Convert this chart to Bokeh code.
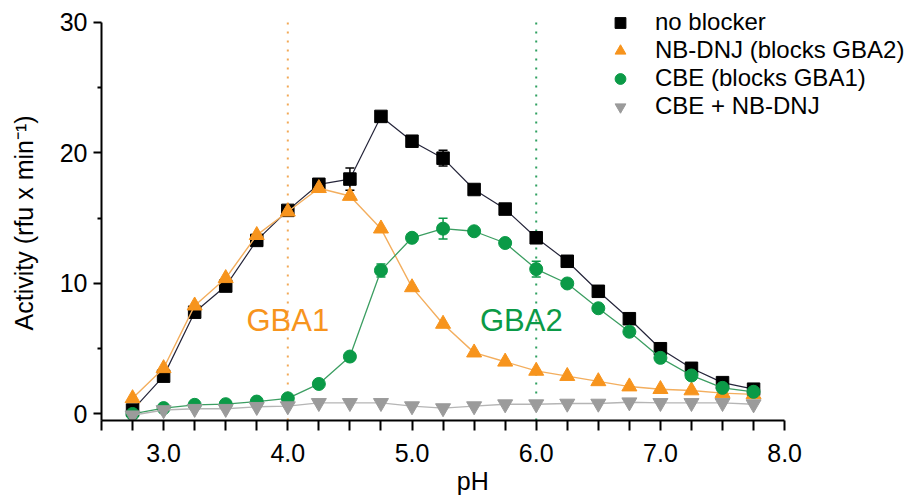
from bokeh.plotting import figure
from bokeh.models import (Range1d, FixedTicker, Legend, LegendItem, Label,
                          ColumnDataSource, Whisker, TeeHead)
from bokeh.embed import file_html
from bokeh.resources import INLINE

# ---------------- data ----------------
ph = [2.75, 3.0, 3.25, 3.5, 3.75, 4.0, 4.25, 4.5, 4.75, 5.0, 5.25,
      5.5, 5.75, 6.0, 6.25, 6.5, 6.75, 7.0, 7.25, 7.5, 7.75]
no_blocker = [0.3, 2.9, 7.8, 9.8, 13.3, 15.6, 17.6, 18.0, 22.8, 20.9, 19.6,
              17.2, 15.7, 13.5, 11.7, 9.4, 7.3, 5.0, 3.5, 2.4, 1.9]
no_blocker_err = [0.2, 0.2, 0.2, 0.2, 0.2, 0.3, 0.4, 0.85, 0.2, 0.2, 0.6,
                  0.2, 0.2, 0.3, 0.2, 0.2, 0.2, 0.2, 0.2, 0.2, 0.2]
nbdnj = [1.2, 3.5, 8.3, 10.4, 13.7, 15.5, 17.3, 16.7, 14.2, 9.7, 6.9,
         4.7, 4.0, 3.3, 2.9, 2.5, 2.1, 1.9, 1.8, 1.6, 1.5]
cbe = [0.0, 0.45, 0.7, 0.75, 0.95, 1.2, 2.3, 4.4, 11.0, 13.5, 14.2,
       14.0, 13.1, 11.1, 10.0, 8.1, 6.3, 4.3, 2.95, 2.0, 1.7]
cbe_err = [0.1, 0.1, 0.1, 0.1, 0.1, 0.1, 0.1, 0.2, 0.5, 0.2, 0.8,
           0.2, 0.2, 0.6, 0.2, 0.2, 0.2, 0.2, 0.2, 0.2, 0.2]
cbe_nbdnj = [-0.1, 0.3, 0.4, 0.4, 0.55, 0.6, 0.85, 0.85, 0.85, 0.6, 0.45,
             0.6, 0.75, 0.75, 0.8, 0.8, 0.9, 0.85, 0.85, 0.85, 0.75]

series_names = ["no blocker", "NB-DNJ (blocks GBA2)", "CBE (blocks GBA1)", "CBE + NB-DNJ"]
x_major = [3.0, 4.0, 5.0, 6.0, 7.0, 8.0]
x_minor = [2.5, 2.75, 3.25, 3.5, 3.75, 4.25, 4.5, 4.75, 5.25, 5.5, 5.75,
           6.25, 6.5, 6.75, 7.25, 7.5, 7.75]
y_major = [0, 10, 20, 30]
y_minor = [5, 15, 25]
gba1_ph = 4.0
gba2_ph = 6.0
gba1_label = ("GBA1", 4.0, 7.2)
gba2_label = ("GBA2", 5.88, 7.2)

FONT = "Liberation Sans"
ORANGE = "#F7941D"
GREEN = "#0B9A47"
GRAY = "#9B9B9B"
NB = "\u00a0"

Y0, Y1 = -0.5, 30
p = figure(width=920, height=497, output_backend="svg", toolbar_location=None,
           x_range=Range1d(2.5, 9.094), y_range=Range1d(Y0, 31.376),
           min_border_left=101, min_border_right=0, min_border_top=4,
           min_border_bottom=76)
p.outline_line_color = None
p.grid.visible = False
p.background_fill_color = "white"
p.border_fill_color = "white"

# axes
xa = p.xaxis[0]
xa.ticker = FixedTicker(ticks=x_major, minor_ticks=x_minor)
xa.bounds = (2.5, 8.0)
xa.major_label_overrides = {v: f"{v:.1f}" for v in x_major}
xa.axis_label = "pH" + NB * 11
ya = p.yaxis[0]
ya.ticker = FixedTicker(ticks=y_major, minor_ticks=y_minor)
ya.bounds = (Y0, Y1)
ya.axis_label = "Activity (rfu x min\u207b\u00b9)" + NB * 3
for ax in (xa, ya):
    ax.axis_line_width = 2
    ax.major_tick_line_width = 2
    ax.minor_tick_line_width = 2
    ax.major_tick_in = 0
    ax.minor_tick_in = 0
    ax.major_label_text_font = FONT
    ax.major_label_text_font_size = "25px"
    ax.major_label_text_color = "black"
    ax.axis_label_text_font = FONT
    ax.axis_label_text_font_size = "25px"
    ax.axis_label_text_font_style = "normal"
    ax.axis_label_text_color = "black"
xa.major_tick_out = 10
xa.minor_tick_out = 10
xa.major_label_standoff = 13
xa.axis_label_standoff = 2
ya.major_tick_out = 8
ya.minor_tick_out = 4
ya.major_label_standoff = 6
ya.axis_label_standoff = 19

# dotted reference lines (from the axis up to the top tick value)
p.segment(x0=[gba1_ph], y0=[Y0], x1=[gba1_ph], y1=[Y1], line_color="#F2A957",
          line_width=2, line_dash="2 7")
p.segment(x0=[gba2_ph], y0=[Y0], x1=[gba2_ph], y1=[Y1], line_color="#2FA060",
          line_width=2, line_dash="2 7")

# labels
for (txt, lx, ly), col in ((gba1_label, ORANGE), (gba2_label, GREEN)):
    p.add_layout(Label(x=lx, y=ly, text=txt, text_font=FONT, text_font_size="31px",
                       text_color=col, text_align="center", text_baseline="middle"))

# error bars
src_b = ColumnDataSource(dict(x=ph, lo=[v - e for v, e in zip(no_blocker, no_blocker_err)],
                              hi=[v + e for v, e in zip(no_blocker, no_blocker_err)]))
src_g = ColumnDataSource(dict(x=ph, lo=[v - e for v, e in zip(cbe, cbe_err)],
                              hi=[v + e for v, e in zip(cbe, cbe_err)]))
for src, col in ((src_b, "black"), (src_g, GREEN)):
    p.add_layout(Whisker(source=src, base="x", lower="lo", upper="hi",
                         line_color=col, line_width=1.5,
                         upper_head=TeeHead(size=9, line_color=col, line_width=1.5),
                         lower_head=TeeHead(size=9, line_color=col, line_width=1.5)))

items = []
p.line(ph, no_blocker, line_color="#25253a", line_width=1.2)
r1 = p.scatter(ph, no_blocker, marker="square", size=12.5, fill_color="black", line_color="black")
p.line(ph, nbdnj, line_color="#F3AE5E", line_width=1.4)
r2 = p.scatter(ph, nbdnj, marker="triangle", size=15, fill_color=ORANGE, line_color=ORANGE)
p.line(ph, cbe, line_color="#3C9E62", line_width=1.3)
r3 = p.scatter(ph, cbe, marker="circle", size=13, fill_color=GREEN, line_color=GREEN)
p.line(ph, cbe_nbdnj, line_color="#B5B5B5", line_width=1.4)
r4 = p.scatter(ph, cbe_nbdnj, marker="inverted_triangle", size=15, fill_color=GRAY, line_color=GRAY)

for name, r in zip(series_names, (r1, r2, r3, r4)):
    items.append(LegendItem(label=name, renderers=[r]))

legend = Legend(items=items, location=(504, 300), orientation="vertical",
                label_text_font=FONT, label_text_font_size="24px", label_text_color="black",
                glyph_width=30, glyph_height=27, label_standoff=20, spacing=0,
                padding=0, margin=0, border_line_color=None, background_fill_alpha=0)
p.add_layout(legend)

open("out.html", "w").write(file_html(p, INLINE))
